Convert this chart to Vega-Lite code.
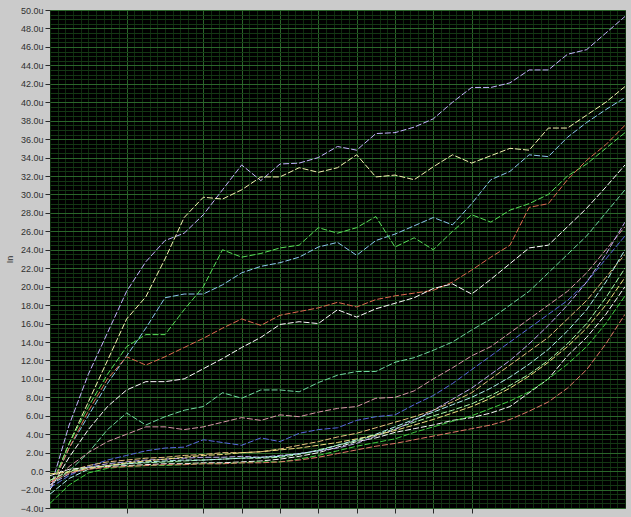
{
  "$schema": "https://vega.github.io/schema/vega-lite/v6.json",
  "width": 575,
  "height": 498,
  "autosize": "none",
  "padding": {"left": 50, "top": 10, "right": 6, "bottom": 9},
  "background": "#cbcbcb",
  "config": {"view": {"fill": "#000000", "stroke": "#8a8a8a", "strokeWidth": 1}},
  "data": {"values": [
    {"x":0,"s1":-2,"s2":-2,"s3":-2,"s4":-2,"s5":-2,"s6":-2,"s7":-1.5,"s8":-1.5,"s9":-1.8,"s10":-1,"s11":-0.5,"s12":-1.0,"s13":-1.5,"s14":-3.5,"s15":-2.5,"s16":-1.2,"s17":-0.3},
    {"x":0.5,"s1":5,"s2":3,"s3":2.5,"s4":3,"s5":2.5,"s6":1.5,"s7":0,"s8":0.5,"s9":-0.5,"s10":0,"s11":0.2,"s12":0.0,"s13":-0.3,"s14":-1.5,"s15":-0.8,"s16":-0.2,"s17":-0.1},
    {"x":1,"s1":10.5,"s2":7.5,"s3":6,"s4":7,"s5":6.5,"s6":4.5,"s7":2,"s8":2,"s9":0.5,"s10":0.6,"s11":0.4,"s12":0.4,"s13":0.4,"s14":-0.2,"s15":0.2,"s16":0.2,"s17":0.3},
    {"x":1.5,"s1":15,"s2":12,"s3":9.5,"s4":10.5,"s5":10,"s6":7,"s7":4.5,"s8":3.2,"s9":1.2,"s10":1,"s11":0.5,"s12":0.6,"s13":0.8,"s14":0.3,"s15":0.6,"s16":0.4,"s17":0.6},
    {"x":2,"s1":19.5,"s2":16.5,"s3":12.5,"s4":13.5,"s5":12.4,"s6":8.8,"s7":6.3,"s8":4,"s9":1.7,"s10":1.2,"s11":0.6,"s12":0.8,"s13":1.0,"s14":0.5,"s15":0.8,"s16":0.5,"s17":0.9},
    {"x":2.5,"s1":22.7,"s2":18.9,"s3":15.5,"s4":14.8,"s5":11.5,"s6":9.7,"s7":5,"s8":4.8,"s9":2.2,"s10":1.4,"s11":0.7,"s12":0.9,"s13":1.2,"s14":0.6,"s15":1.0,"s16":0.6,"s17":1.1},
    {"x":3,"s1":25,"s2":23,"s3":18.8,"s4":14.8,"s5":12.4,"s6":9.7,"s7":5.9,"s8":4.8,"s9":2.5,"s10":1.5,"s11":0.8,"s12":1.0,"s13":1.3,"s14":0.6,"s15":1.1,"s16":0.7,"s17":1.3},
    {"x":3.5,"s1":25.8,"s2":27.5,"s3":19.2,"s4":17.5,"s5":13.4,"s6":10,"s7":6.6,"s8":4.5,"s9":2.6,"s10":1.7,"s11":0.8,"s12":1.1,"s13":1.4,"s14":0.7,"s15":1.2,"s16":0.7,"s17":1.5},
    {"x":4,"s1":27.8,"s2":29.7,"s3":19.2,"s4":20,"s5":14.4,"s6":11.1,"s7":7,"s8":4.8,"s9":3.4,"s10":1.8,"s11":0.9,"s12":1.2,"s13":1.5,"s14":0.8,"s15":1.2,"s16":0.8,"s17":1.7},
    {"x":4.5,"s1":30.5,"s2":29.5,"s3":20.2,"s4":24,"s5":15.5,"s6":12.2,"s7":8.5,"s8":5.3,"s9":3.1,"s10":2,"s11":0.9,"s12":1.3,"s13":1.5,"s14":0.8,"s15":1.3,"s16":0.8,"s17":1.8},
    {"x":5,"s1":33.2,"s2":30.5,"s3":21.5,"s4":23.2,"s5":16.5,"s6":13.4,"s7":7.9,"s8":5.8,"s9":2.8,"s10":2,"s11":1.0,"s12":1.4,"s13":1.6,"s14":0.9,"s15":1.4,"s16":0.9,"s17":2.0},
    {"x":5.5,"s1":31.5,"s2":31.9,"s3":22.2,"s4":23.6,"s5":15.8,"s6":14.5,"s7":8.8,"s8":5.5,"s9":3.6,"s10":2.1,"s11":1.1,"s12":1.4,"s13":1.5,"s14":1.0,"s15":1.5,"s16":0.9,"s17":2.1},
    {"x":6,"s1":33.3,"s2":31.9,"s3":22.6,"s4":24.2,"s5":16.9,"s6":15.9,"s7":8.8,"s8":6.1,"s9":3.2,"s10":2.4,"s11":1.3,"s12":1.5,"s13":1.7,"s14":1.0,"s15":1.6,"s16":1.0,"s17":2.3},
    {"x":6.5,"s1":33.4,"s2":32.9,"s3":23.2,"s4":24.5,"s5":17.3,"s6":16.2,"s7":8.6,"s8":5.9,"s9":4.1,"s10":2.8,"s11":1.6,"s12":1.8,"s13":1.9,"s14":1.3,"s15":1.9,"s16":1.2,"s17":2.5},
    {"x":7,"s1":34,"s2":32.4,"s3":24.3,"s4":26.4,"s5":17.7,"s6":16,"s7":9.6,"s8":6.4,"s9":4.5,"s10":3.2,"s11":2.0,"s12":2.3,"s13":2.2,"s14":1.7,"s15":2.2,"s16":1.5,"s17":2.8},
    {"x":7.5,"s1":35.2,"s2":32.9,"s3":24.8,"s4":25.8,"s5":18.3,"s6":17.5,"s7":10.4,"s8":6.8,"s9":4.7,"s10":3.7,"s11":2.6,"s12":2.8,"s13":2.5,"s14":2.2,"s15":2.8,"s16":1.9,"s17":3.1},
    {"x":8,"s1":34.8,"s2":34.3,"s3":23.4,"s4":26.4,"s5":17.8,"s6":16.7,"s7":10.8,"s8":7,"s9":5.5,"s10":4.1,"s11":3.2,"s12":3.3,"s13":3.0,"s14":2.7,"s15":3.4,"s16":2.3,"s17":3.5},
    {"x":8.5,"s1":36.6,"s2":31.9,"s3":25,"s4":27.6,"s5":18.6,"s6":17.6,"s7":10.8,"s8":7.9,"s9":5.9,"s10":4.7,"s11":3.6,"s12":3.9,"s13":3.8,"s14":3.1,"s15":4.0,"s16":2.7,"s17":3.9},
    {"x":9,"s1":36.7,"s2":32.1,"s3":25.7,"s4":24.3,"s5":19,"s6":18.2,"s7":11.8,"s8":8,"s9":6.1,"s10":5.3,"s11":4.2,"s12":4.6,"s13":4.5,"s14":3.5,"s15":4.8,"s16":3.0,"s17":4.4},
    {"x":9.5,"s1":37.3,"s2":31.6,"s3":26.6,"s4":25.3,"s5":19.3,"s6":18.8,"s7":12.3,"s8":8.7,"s9":7.2,"s10":5.9,"s11":4.6,"s12":5.3,"s13":5.5,"s14":4.2,"s15":5.6,"s16":3.4,"s17":5.0},
    {"x":10,"s1":38.2,"s2":33,"s3":27.5,"s4":24,"s5":19.6,"s6":19.8,"s7":13.1,"s8":10,"s9":8.2,"s10":6.6,"s11":5.0,"s12":6.0,"s13":6.6,"s14":4.8,"s15":6.4,"s16":3.8,"s17":5.6},
    {"x":10.5,"s1":40,"s2":34.3,"s3":26.7,"s4":26,"s5":20.5,"s6":20.3,"s7":14,"s8":11.2,"s9":9.5,"s10":7.5,"s11":5.5,"s12":6.6,"s13":7.8,"s14":5.4,"s15":7.2,"s16":4.2,"s17":6.3},
    {"x":11,"s1":41.6,"s2":33.4,"s3":29,"s4":27.8,"s5":21.8,"s6":19.2,"s7":15.3,"s8":12.5,"s9":11,"s10":8.5,"s11":5.8,"s12":7.3,"s13":9.0,"s14":6.0,"s15":8.0,"s16":4.6,"s17":7.0},
    {"x":11.5,"s1":41.6,"s2":34.2,"s3":31.6,"s4":27,"s5":23.2,"s6":20.8,"s7":16.5,"s8":13.5,"s9":12.5,"s10":10,"s11":6.3,"s12":8.2,"s13":10.5,"s14":6.8,"s15":9.0,"s16":5.0,"s17":7.9},
    {"x":12,"s1":42.1,"s2":35,"s3":32.5,"s4":28.3,"s5":24.5,"s6":22.5,"s7":18,"s8":15,"s9":14,"s10":11.5,"s11":7.0,"s12":9.3,"s13":12,"s14":7.6,"s15":10.2,"s16":5.6,"s17":9.0},
    {"x":12.5,"s1":43.5,"s2":34.8,"s3":34.3,"s4":29,"s5":28.6,"s6":24.2,"s7":19.5,"s8":16.5,"s9":15.5,"s10":13,"s11":8.5,"s12":10.5,"s13":13.8,"s14":8.6,"s15":11.6,"s16":6.5,"s17":10.3},
    {"x":13,"s1":43.5,"s2":37.2,"s3":34.1,"s4":30,"s5":29,"s6":24.5,"s7":21.5,"s8":18,"s9":17,"s10":14.5,"s11":10,"s12":12,"s13":15.8,"s14":10,"s15":13.2,"s16":7.5,"s17":11.8},
    {"x":13.5,"s1":45.2,"s2":37.2,"s3":36.2,"s4":32,"s5":31.6,"s6":26.5,"s7":23.5,"s8":19.5,"s9":18.5,"s10":16.5,"s11":12.5,"s12":13.8,"s13":18,"s14":11.6,"s15":15.2,"s16":9.0,"s17":13.5},
    {"x":14,"s1":45.7,"s2":38.6,"s3":37.8,"s4":33.3,"s5":33.7,"s6":28.5,"s7":25.5,"s8":21.5,"s9":20.5,"s10":18.5,"s11":14.5,"s12":16,"s13":20.5,"s14":13.5,"s15":17.5,"s16":11,"s17":15.5},
    {"x":14.5,"s1":47.5,"s2":40,"s3":39.2,"s4":35,"s5":35.4,"s6":30.8,"s7":28,"s8":24,"s9":23,"s10":21,"s11":17,"s12":18.8,"s13":23.5,"s14":16,"s15":20.5,"s16":13.8,"s17":18},
    {"x":15,"s1":49.3,"s2":41.7,"s3":40.5,"s4":36.7,"s5":37.5,"s6":33.2,"s7":30.5,"s8":26.5,"s9":25.5,"s10":23.5,"s11":20,"s12":22,"s13":27,"s14":19,"s15":24,"s16":17,"s17":21}
  ]},
  "transform": [
    {"fold": ["s1","s2","s3","s4","s5","s6","s7","s8","s9","s10","s11","s12","s13","s14","s15","s16","s17"], "as": ["s", "y"]}
  ],
  "mark": {"type": "line", "strokeWidth": 1, "strokeDash": [6, 2], "clip": true},
  "encoding": {
    "x": {
      "field": "x", "type": "quantitative",
      "scale": {"domain": [0, 15], "nice": false, "zero": false},
      "axis": {
        "title": null, "labels": false, "domain": false,
        "values": [0,0.2,0.4,0.6,0.8,1,1.2,1.4,1.6,1.8,2,2.2,2.4,2.6,2.8,3,3.2,3.4,3.6,3.8,4,4.2,4.4,4.6,4.8,5,5.2,5.4,5.6,5.8,6,6.2,6.4,6.6,6.8,7,7.2,7.4,7.6,7.8,8,8.2,8.4,8.6,8.8,9,9.2,9.4,9.6,9.8,10,10.2,10.4,10.6,10.8,11,11.2,11.4,11.6,11.8,12,12.2,12.4,12.6,12.8,13,13.2,13.4,13.6,13.8,14,14.2,14.4,14.6,14.8,15],
        "grid": true,
        "gridWidth": 1,
        "gridColor": {"condition": {"test": "indexof([2,4,5,6,7,8,9,10,11], datum.value) >= 0", "value": "#2a642a"}, "value": "#0f2c0f"},
        "tickColor": "#2a2a2a",
        "tickSize": 5,
        "tickOpacity": {"condition": {"test": "indexof([2,4,5,6,7,8,9,10,11], datum.value) >= 0", "value": 1}, "value": 0}
      }
    },
    "y": {
      "field": "y", "type": "quantitative",
      "scale": {"domain": [-4, 50], "nice": false, "zero": false},
      "axis": {
        "title": "In", "titleFont": "Liberation Sans", "titleFontSize": 9, "titleFontWeight": "normal", "titleColor": "#303030", "titlePadding": 6,
        "domain": false,
        "values": [-4,-3.5,-3,-2.5,-2,-1.5,-1,-0.5,0,0.5,1,1.5,2,2.5,3,3.5,4,4.5,5,5.5,6,6.5,7,7.5,8,8.5,9,9.5,10,10.5,11,11.5,12,12.5,13,13.5,14,14.5,15,15.5,16,16.5,17,17.5,18,18.5,19,19.5,20,20.5,21,21.5,22,22.5,23,23.5,24,24.5,25,25.5,26,26.5,27,27.5,28,28.5,29,29.5,30,30.5,31,31.5,32,32.5,33,33.5,34,34.5,35,35.5,36,36.5,37,37.5,38,38.5,39,39.5,40,40.5,41,41.5,42,42.5,43,43.5,44,44.5,45,45.5,46,46.5,47,47.5,48,48.5,49,49.5,50],
        "labelExpr": "datum.value % 2 === 0 ? (datum.value === 0 ? '0.0' : format(datum.value, '.1f') + 'u') : ''",
        "labelOverlap": false, "labelFlush": false, "labelBound": false,
        "labelFont": "Liberation Sans", "labelFontSize": 9, "labelColor": "#303030", "labelPadding": 2,
        "grid": true,
        "gridWidth": 1,
        "gridColor": {"condition": {"test": "datum.value % 2 === 0", "value": "#2a662a"}, "value": "#143814"},
        "tickColor": "#2a2a2a",
        "tickSize": 5,
        "tickOpacity": {"condition": {"test": "datum.value % 2 === 0", "value": 1}, "value": 0}
      }
    },
    "color": {
      "field": "s", "type": "nominal", "legend": null,
      "scale": {
        "domain": ["s1","s2","s3","s4","s5","s6","s7","s8","s9","s10","s11","s12","s13","s14","s15","s16","s17"],
        "range": ["#c4b4ff","#f4f4b0","#8cc8f0","#58e058","#e06a50","#ffffff","#70d8a0","#d898a8","#5868e0","#e8c080","#f8f8f8","#a8f8a8","#c0a8f0","#40d040","#b0f0f0","#e07868","#f0e080"]
      }
    }
  }
}
